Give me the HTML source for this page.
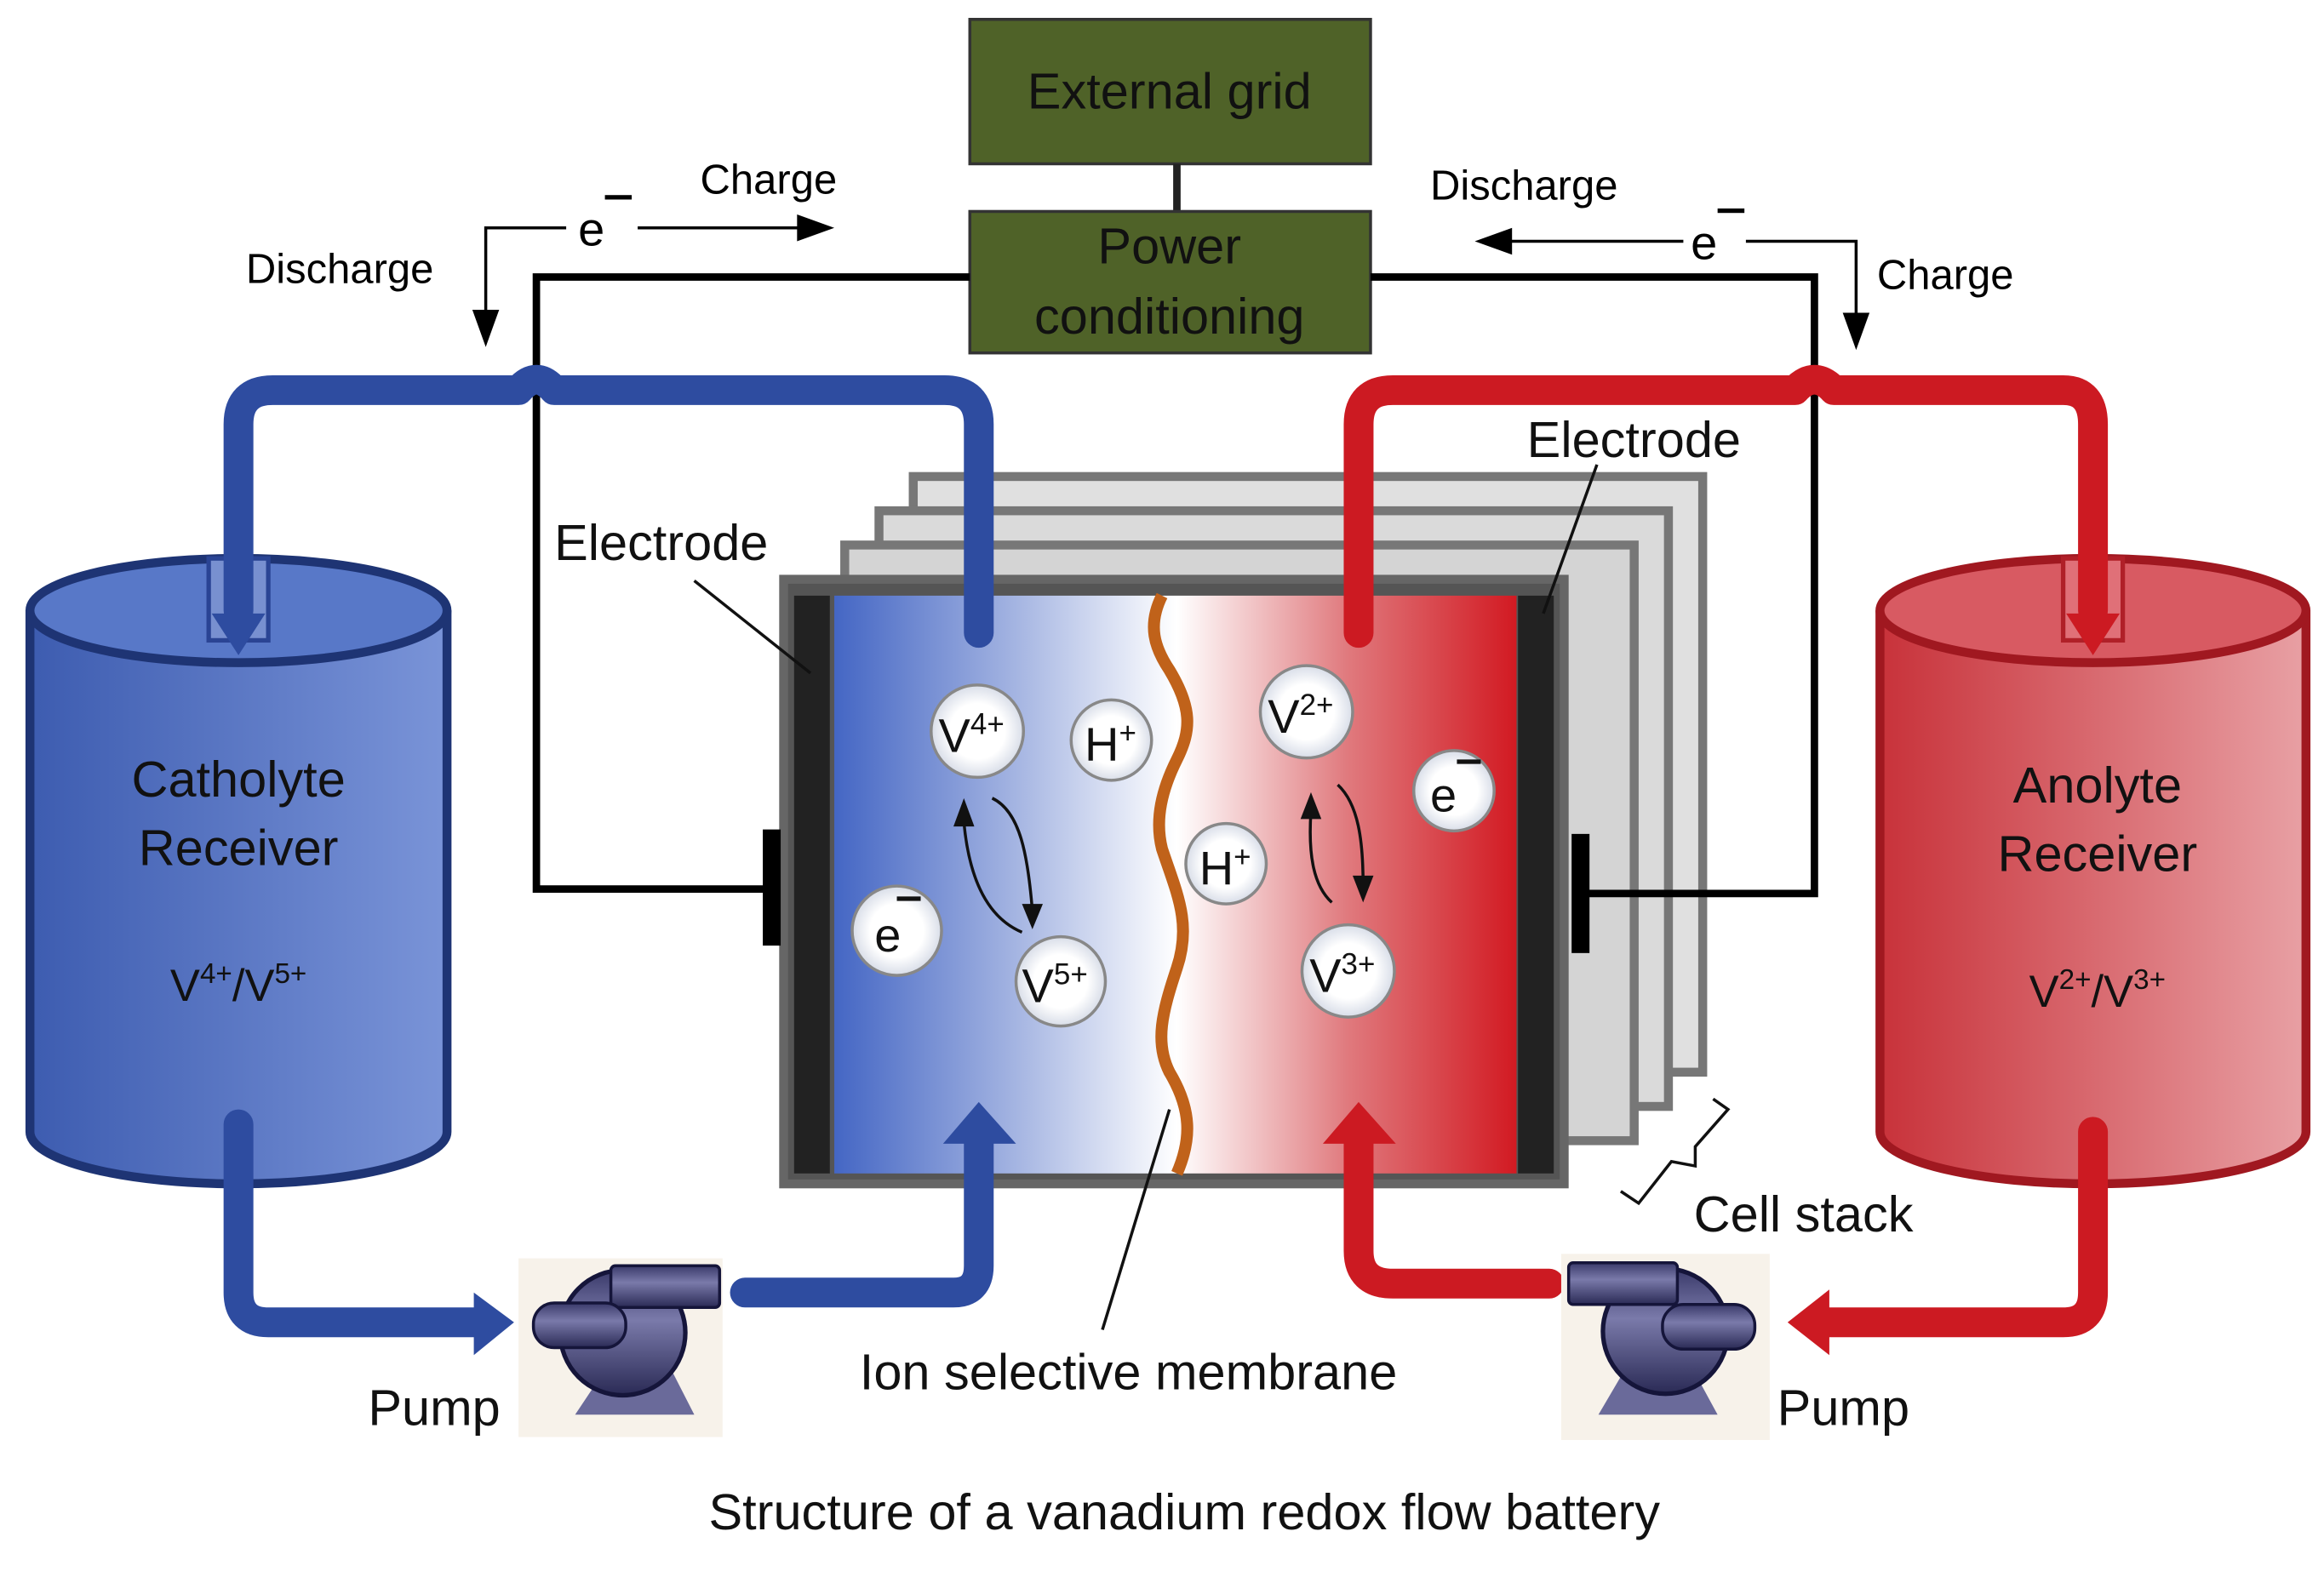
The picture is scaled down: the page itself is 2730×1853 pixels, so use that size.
<!DOCTYPE html>
<html><head><meta charset="utf-8"><style>
html,body{margin:0;padding:0;background:#fff;}
svg{display:block;}
text{font-family:"Liberation Sans",sans-serif;}
</style></head><body>
<svg width="2730" height="1853" viewBox="0 0 1560 1059" xmlns="http://www.w3.org/2000/svg">
<defs>
<linearGradient id="bl" x1="0" x2="1"><stop offset="0" stop-color="#4466c4"/><stop offset="0.5" stop-color="#9fb0e0"/><stop offset="1" stop-color="#ffffff"/></linearGradient>
<linearGradient id="rd" x1="0" x2="1"><stop offset="0" stop-color="#ffffff"/><stop offset="0.5" stop-color="#e07a7e"/><stop offset="1" stop-color="#d21a22"/></linearGradient>
<linearGradient id="bt" x1="0" x2="1"><stop offset="0" stop-color="#3d5cb0"/><stop offset="1" stop-color="#7a94d8"/></linearGradient>
<linearGradient id="rt" x1="0" x2="1"><stop offset="0" stop-color="#c8323a"/><stop offset="1" stop-color="#e8a0a4"/></linearGradient>
<radialGradient id="ion"><stop offset="0.6" stop-color="#fff"/><stop offset="1" stop-color="#d8dde8"/></radialGradient>
<linearGradient id="pm" x1="0" y1="0" x2="0" y2="1"><stop offset="0" stop-color="#3a3a6a"/><stop offset="0.4" stop-color="#7a7aaa"/><stop offset="1" stop-color="#2a2a55"/></linearGradient>
</defs>

<rect x="651" y="13" width="269" height="97" fill="#4f6228" stroke="#333" stroke-width="2"/>
<text x="785" y="73" font-size="34" text-anchor="middle" fill="#111">External grid</text>
<line x1="790" y1="110" x2="790" y2="142" stroke="#222" stroke-width="5"/>
<rect x="651" y="142" width="269" height="95" fill="#4f6228" stroke="#333" stroke-width="2"/>
<text x="785" y="177" font-size="34" text-anchor="middle" fill="#111">Power</text>
<text x="785" y="224" font-size="34" text-anchor="middle" fill="#111">conditioning</text>

<polyline points="380,153 326,153 326,220" fill="none" stroke="#000" stroke-width="2"/>
<polygon points="317,208 335,208 326,233" fill="#000"/>
<line x1="428" y1="153" x2="545" y2="153" stroke="#000" stroke-width="2"/>
<polygon points="535,144 560,153 535,162" fill="#000"/>
<text x="388" y="165" font-size="32">e</text><rect x="406" y="131" width="18" height="3" fill="#000"/>
<text x="470" y="130" font-size="28">Charge</text>
<text x="165" y="190" font-size="28">Discharge</text>

<line x1="1010" y1="162" x2="1130" y2="162" stroke="#000" stroke-width="2"/>
<polygon points="1015,153 990,162 1015,171" fill="#000"/>
<polyline points="1172,162 1246,162 1246,222" fill="none" stroke="#000" stroke-width="2"/>
<polygon points="1237,210 1255,210 1246,235" fill="#000"/>
<text x="1135" y="174" font-size="32">e</text><rect x="1153" y="140" width="18" height="3" fill="#000"/>
<text x="960" y="134" font-size="28">Discharge</text>
<text x="1260" y="194" font-size="28">Charge</text>

<rect x="613" y="320" width="530" height="400" fill="#e0e0e0" stroke="#777" stroke-width="6"/>
<rect x="590" y="343" width="530" height="400" fill="#dadada" stroke="#777" stroke-width="6"/>
<rect x="567" y="366" width="530" height="400" fill="#d4d4d4" stroke="#777" stroke-width="6"/>

<polyline points="651,186 360,186 360,597 515,597" fill="none" stroke="#000" stroke-width="5"/>
<polyline points="920,186 1218,186 1218,600 1065,600" fill="none" stroke="#000" stroke-width="5"/>

<rect x="526" y="389" width="524" height="406" fill="#555" stroke="#666" stroke-width="6"/>
<rect x="533" y="400" width="24" height="388" fill="#222"/>
<rect x="1019" y="400" width="24" height="388" fill="#222"/>
<rect x="560" y="400" width="230" height="388" fill="url(#bl)"/>
<rect x="790" y="400" width="228" height="388" fill="url(#rd)"/>
<path d="M780,400 C770,420 775,435 785,450 C800,475 800,490 790,510 C780,530 775,550 780,570 C790,600 800,620 790,650 C780,680 775,700 785,720 C800,745 800,765 790,788" fill="none" stroke="#c0621a" stroke-width="8"/>
<rect x="512" y="557" width="12" height="78" fill="#000"/>
<rect x="1055" y="560" width="12" height="80" fill="#000"/>

<path d="M20,410 L20,760 A140,35 0 0 0 300,760 L300,410" fill="url(#bt)" stroke="#1e3474" stroke-width="6"/>
<ellipse cx="160" cy="410" rx="140" ry="35" fill="#5878c8" stroke="#1e3474" stroke-width="6"/>
<path d="M1262,410 L1262,760 A143,35 0 0 0 1548,760 L1548,410" fill="url(#rt)" stroke="#a01820" stroke-width="6"/>
<ellipse cx="1405" cy="410" rx="143" ry="35" fill="#d85a62" stroke="#a01820" stroke-width="6"/>
<rect x="140" y="375" width="40" height="55" fill="#7890d0" stroke="#2a4494" stroke-width="3"/>
<rect x="1385" y="375" width="40" height="55" fill="#e07078" stroke="#b02028" stroke-width="3"/>

<g fill="none" stroke-width="20" stroke-linecap="round" stroke-linejoin="round">
<path d="M657,425 L657,285 Q657,262 634,262 L372,262 Q360,248 348,262 L183,262 Q160,262 160,285 L160,410" stroke="#2e4ca0"/>
<path d="M160,755 L160,868 Q160,888 180,888 L320,888" stroke="#2e4ca0"/>
<path d="M500,868 L640,868 Q657,868 657,850 L657,765" stroke="#2e4ca0"/>
<path d="M912,425 L912,285 Q912,262 935,262 L1205,262 Q1218,248 1231,262 L1385,262 Q1405,262 1405,285 L1405,410" stroke="#cc1a22"/>
<path d="M1405,760 L1405,868 Q1405,888 1385,888 L1225,888" stroke="#cc1a22"/>
<path d="M1040,862 L935,862 Q912,862 912,840 L912,765" stroke="#cc1a22"/>
</g>
<polygon points="318,868 345,888 318,910" fill="#2e4ca0"/>
<polygon points="633,768 657,740 682,768" fill="#2e4ca0"/>
<polygon points="1228,866 1200,888 1228,910" fill="#cc1a22"/>
<polygon points="888,768 912,740 937,768" fill="#cc1a22"/>
<polygon points="142,412 178,412 160,440" fill="#2e4ca0"/>
<polygon points="1387,412 1423,412 1405,440" fill="#cc1a22"/>

<g transform="translate(348,845)">
<rect x="0" y="0" width="137" height="120" fill="#f7f2ea"/>
<polygon points="38,105 68,60 95,60 118,105" fill="#6a6a9a"/>
<circle cx="70" cy="50" r="42" fill="url(#pm)" stroke="#15153a" stroke-width="3"/>
<rect x="62" y="5" width="73" height="28" rx="3" fill="url(#pm)" stroke="#15153a" stroke-width="2"/>
<rect x="10" y="30" width="62" height="30" rx="14" fill="url(#pm)" stroke="#15153a" stroke-width="2"/>
</g>
<g transform="translate(1048,842)">
<rect x="0" y="0" width="140" height="125" fill="#f7f2ea"/>
<polygon points="25,108 52,62 80,62 105,108" fill="#6a6a9a"/>
<circle cx="70" cy="52" r="42" fill="url(#pm)" stroke="#15153a" stroke-width="3"/>
<rect x="5" y="6" width="73" height="28" rx="3" fill="url(#pm)" stroke="#15153a" stroke-width="2"/>
<rect x="68" y="34" width="62" height="30" rx="14" fill="url(#pm)" stroke="#15153a" stroke-width="2"/>
</g>

<g stroke="#888" stroke-width="2" fill="url(#ion)">
<circle cx="656" cy="491" r="31"/>
<circle cx="746" cy="497" r="27"/>
<circle cx="602" cy="625" r="30"/>
<circle cx="712" cy="659" r="30"/>
<circle cx="877" cy="478" r="31"/>
<circle cx="823" cy="580" r="27"/>
<circle cx="976" cy="531" r="27"/>
<circle cx="905" cy="652" r="31"/>
</g>
<g font-size="32" fill="#111">
<text x="630" y="505">V<tspan font-size="20" dy="-12">4+</tspan></text>
<text x="728" y="511">H<tspan font-size="20" dy="-12">+</tspan></text>
<text x="587" y="639">e</text><rect x="602" y="602" width="16" height="3" fill="#111"/>
<text x="686" y="673">V<tspan font-size="20" dy="-12">5+</tspan></text>
<text x="851" y="492">V<tspan font-size="20" dy="-12">2+</tspan></text>
<text x="805" y="594">H<tspan font-size="20" dy="-12">+</tspan></text>
<text x="960" y="545">e</text><rect x="978" y="510" width="16" height="3" fill="#111"/>
<text x="879" y="666">V<tspan font-size="20" dy="-12">3+</tspan></text>
</g>
<g fill="none" stroke="#111" stroke-width="2">
<path d="M686,626 C660,615 650,585 647,552"/>
<path d="M666,536 C685,545 690,575 693,612"/>
<path d="M894,606 C882,595 878,575 880,545"/>
<path d="M898,527 C912,540 915,565 915,594"/>
</g>
<polygon points="640,555 647,536 654,555" fill="#111"/>
<polygon points="686,607 693,624 700,607" fill="#111"/>
<polygon points="873,550 880,532 887,550" fill="#111"/>
<polygon points="908,588 915,606 922,588" fill="#111"/>

<g font-size="34" fill="#111">
<text x="160" y="535" text-anchor="middle">Catholyte</text>
<text x="160" y="581" text-anchor="middle">Receiver</text>
<text x="160" y="672" text-anchor="middle" font-size="30">V<tspan font-size="19" dy="-12">4+</tspan><tspan dy="12">/V</tspan><tspan font-size="19" dy="-12">5+</tspan></text>
<text x="1408" y="539" text-anchor="middle">Anolyte</text>
<text x="1408" y="585" text-anchor="middle">Receiver</text>
<text x="1408" y="676" text-anchor="middle" font-size="30">V<tspan font-size="19" dy="-12">2+</tspan><tspan dy="12">/V</tspan><tspan font-size="19" dy="-12">3+</tspan></text>
<text x="372" y="376">Electrode</text>
<text x="1025" y="307">Electrode</text>
<text x="1137" y="827">Cell stack</text>
<text x="577" y="933">Ion selective membrane</text>
<text x="247" y="957">Pump</text>
<text x="1193" y="957">Pump</text>
<text x="795" y="1027" text-anchor="middle">Structure of a vanadium redox flow battery</text>
</g>
<g stroke="#111" stroke-width="2" fill="none">
<line x1="466" y1="390" x2="544" y2="452"/>
<line x1="1072" y1="312" x2="1036" y2="412"/>
<line x1="785" y1="745" x2="740" y2="893"/>
<path d="M1088,800 L1100,808 L1122,780 L1138,783 L1138,770 L1160,745 L1150,738"/>
</g>
</svg>
</body></html>
